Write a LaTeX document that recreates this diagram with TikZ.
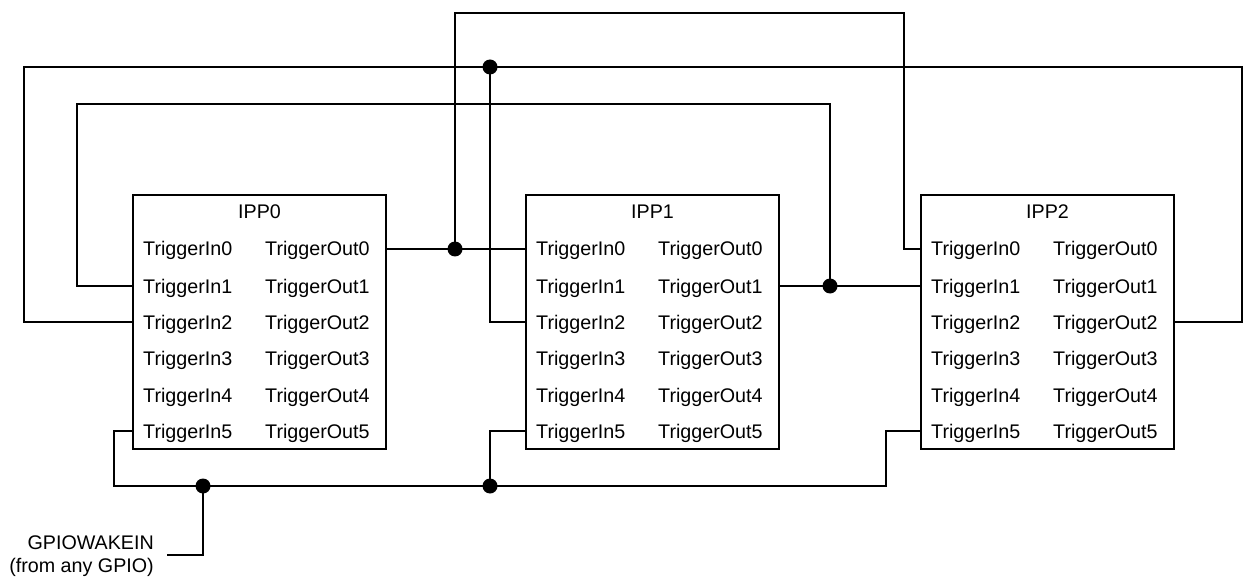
\documentclass[tikz,border=0pt]{standalone}
\usepackage{fontspec}
\setmainfont{Liberation Sans}
\begin{document}
\begin{tikzpicture}[x=1pt,y=-1pt,
  wire/.style={line width=1.7pt},
  ippbox/.style={draw,line width=1.7pt,minimum width=253pt,minimum height=254pt,inner sep=0pt},
  lbl/.style={font=\fontsize{19.7}{24}\selectfont,inner sep=0pt},
  junc/.style={circle,fill,inner sep=0pt,minimum size=15pt}]
\useasboundingbox (0,0) rectangle (1244,577);
\foreach \n/\cx in {0/259.5,1/652.5,2/1047.5} {
  \node[ippbox] (ipp\n) at (\cx,322) {};
  \node[lbl,anchor=base] (ipp\n-title) at (\cx,219) {IPP\n};
  \pgfmathsetmacro\lx{\cx-126.5}
  \pgfmathsetmacro\rx{\cx+126.5}
  \foreach \r/\ry in {0/249,1/286,2/322,3/358,4/395,5/431} {
    \coordinate (ipp\n-in\r) at (\lx,\ry);
    \coordinate (ipp\n-out\r) at (\rx,\ry);
    \node[lbl,anchor=base west] (ipp\n-inlbl\r) at (\lx+10,\ry+7) {TriggerIn\r};
    \node[lbl,anchor=base west] (ipp\n-outlbl\r) at (\lx+132,\ry+7) {TriggerOut\r};
  }
}
% net 0: IPP0 Out0 -> IPP1 In0, IPP2 In0
\coordinate (j0) at (455,249);
\coordinate (r0top) at (904,13);
\draw[wire] (ipp0-out0) -- (ipp1-in0);
\draw[wire] (j0) |- (r0top) |- (ipp2-in0);
% net 2: IPP2 Out2 -> IPP0 In2, IPP1 In2
\coordinate (n2R) at (1242,67);
\coordinate (n2L) at (24,67);
\coordinate (j2) at (490,67);
\draw[wire] (ipp2-out2) -| (n2R) -- (n2L) |- (ipp0-in2);
\draw[wire] (j2) |- (ipp1-in2);
% net 1: IPP1 Out1 -> IPP2 In1, IPP0 In1
\coordinate (j1) at (830,286);
\coordinate (n1L) at (77,104);
\draw[wire] (ipp1-out1) -- (ipp2-in1);
\draw[wire] (j1) |- (n1L) |- (ipp0-in1);
% net 5: GPIOWAKEIN -> In5 of all
\coordinate (n5L) at (114,486);
\coordinate (n5R) at (886,486);
\coordinate (j5a) at (203,486);
\coordinate (j5b) at (490,486);
\coordinate (gpioend) at (167,555);
\draw[wire] (ipp0-in5) -| (n5L) -- (n5R) |- (ipp2-in5);
\draw[wire] (j5b) |- (ipp1-in5);
\draw[wire] (j5a) |- (gpioend);
\node[lbl,anchor=base east] (gpio1) at (154,549) {GPIOWAKEIN};
\node[lbl,anchor=base east] (gpio2) at (154,572) {(from any GPIO)};
% junctions
\foreach \j in {j0,j1,j2,j5a,j5b} {
  \node[junc] (d\j) at (\j) {};
}
\end{tikzpicture}
\end{document}
